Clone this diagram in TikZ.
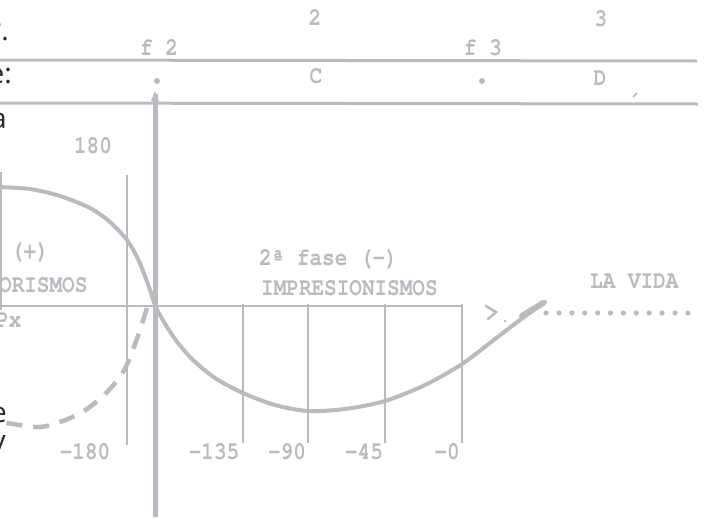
\documentclass[tikz,border=0pt]{standalone}
\usepackage{fontspec}
\newfontfamily\blackfont{Open Sans}
\newfontfamily\twfont{texgyrecursor-bold.otf}
\newcommand\vs[1]{\scalebox{1}[1.2]{#1}}
\definecolor{ink}{RGB}{185,187,191}
\definecolor{dark}{RGB}{40,40,40}
\begin{document}
\begin{tikzpicture}[x=1pt,y=-1pt,
  tw/.style={text=ink, font=\fontsize{21}{21}\selectfont\twfont, inner sep=0pt},
  twb/.style={tw},
  blk/.style={text=dark, font=\fontsize{28}{28}\selectfont\blackfont, inner sep=0pt, anchor=base east},
  rule/.style={draw=ink, line width=3},
  thin/.style={draw=ink, line width=2.5},
  wave/.style={draw=ink, line width=4, line cap=round},
  dwave/.style={draw=ink, line width=4.5, dash pattern=on 16pt off 11pt}]
\useasboundingbox (0,0) rectangle (704,517);
\clip (0,0) rectangle (704,517);
\fill[white] (0,0) rectangle (704,517);

% partial black text at the left edge
\node[blk] (b1) at (9,40) {º.};
\node[blk] (b2) at (12,83) {e:};
\node[blk] (b3) at (7,128) {a};
\node[blk] (b4) at (7,422) {e};
\node[blk] (b5) at (6,450) {y};

% horizontal rules
\coordinate (r1a) at (0,60); \coordinate (r1b) at (697,61);
\coordinate (r2a) at (0,103); \coordinate (r2b) at (698,104);
\draw[rule] (r1a) -- (r1b);
\draw[rule] (r2a) -- (r2b);
\draw[ink, line width=1.5] (633,97) -- (637,93);

% header texts
\node[tw, anchor=base] (n2) at (315,25) {\vs{2}};
\node[tw, anchor=base] (n3) at (601,26) {\vs{3}};
\node[tw, anchor=base] (f2) at (159,55) {\vs{f 2}};
\node[tw, anchor=base] (f3) at (483,55) {\vs{f 3}};
\node[tw, anchor=base] (C) at (316,83) {\vs{C}};
\node[tw, anchor=base] (D) at (600,85) {\vs{D}};
\fill[ink] (157,81) circle (3);
\fill[ink] (482,81) circle (3);

% main vertical
\coordinate (vtop) at (155,94); \coordinate (vbot) at (155,517);
\draw[ink, line width=5] (vtop) -- (vbot);
\fill[ink] (155,91) -- (159,101) -- (151,101) -- cycle;

% thin verticals
\draw[thin] (127,175) -- (127,445);
\draw[thin] (1,172) -- (1,310);

% axis
\coordinate (ax0) at (0,306); \coordinate (ax1) at (463,306);
\draw[thin] (ax0) -- (ax1);
\foreach \x in {243,308,385,462} \draw[thin] (\x,304) -- (\x,443);
\draw[ink, line width=2.5, line cap=round] (486,306) -- (496,312) -- (488,319);
\fill[ink] (505,321) circle (1.3);

% solid wave
\draw[wave] plot[smooth, tension=0.5] coordinates {
 (-2,187) (30,189) (60,196) (90,208) (110,222) (127,240) (138,259) (146,279)
 (151,293) (155,305) (161,317) (175,339) (192,359) (215,378) (243,393)
 (275,405) (308,411) (345,409) (385,401) (425,385) (462,364) (495,339)
 (520,320) (545,302)};
\draw[ink, line width=6, line cap=round] (522,316) -- (543,303);

% dashed wave
\draw[dwave] plot[smooth, tension=0.6] coordinates {
 (147,308) (140,330) (132,352) (123,372) (107,392) (84,411) (60,422)
 (40,427) (20,425) (0,422)};

% dotted continuation
\foreach \i in {0,...,11} \fill[ink] (546+\i*12.9,313) circle (2.6);

% labels
\node[tw, anchor=base] (plus) at (30,258) {\vs{(+)}};
\node[tw, anchor=base west] (ori) at (-1,292) {\vs{ORISMOS}};
\node[twb, anchor=base west] (px) at (-4,327) {\vs{Px}};
\node[tw, anchor=base west] (fase) at (259,265) {\vs{2ª fase (-)}};
\node[tw, anchor=base west] (imp) at (261,295) {\vs{IMPRESIONISMOS}};
\node[twb, anchor=base west] (vida) at (590,288) {\vs{LA VIDA}};

\node[tw, anchor=base] (t180) at (93,153) {\vs{180}};
\node[tw, anchor=base] (m180) at (85,459) {\vs{-180}};
\node[tw, anchor=base] (m135) at (214,459) {\vs{-135}};
\node[tw, anchor=base] (m90) at (287,459) {\vs{-90}};
\node[tw, anchor=base] (m45) at (364,459) {\vs{-45}};
\node[tw, anchor=base] (m0) at (447,459) {\vs{-0}};
\end{tikzpicture}
\end{document}
